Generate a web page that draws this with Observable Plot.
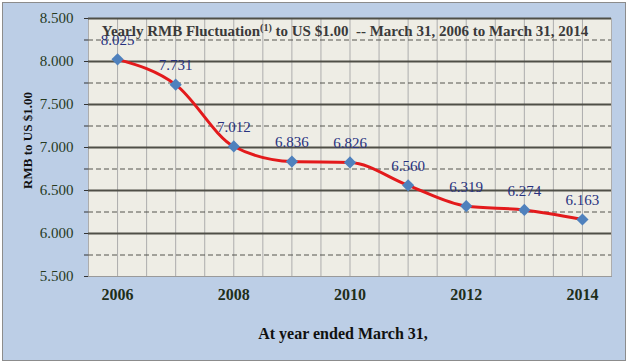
<!DOCTYPE html>
<html><head><meta charset="utf-8">
<script src="https://cdn.jsdelivr.net/npm/d3@7"></script>
<script src="https://cdn.jsdelivr.net/npm/@observablehq/plot@0.6"></script>
<style>
body{margin:0;background:#fff;}
#wrap{position:relative;width:629px;height:364px;overflow:hidden;}
#bg{position:absolute;left:2px;top:2px;width:622px;height:357px;background:#bccee6;border:1.5px solid #8c8c8c;}
#chart{position:absolute;left:0;top:0;}
</style></head><body>
<div id="wrap"><div id="bg"></div><div id="chart"></div></div>
<script>
const years = [2006, 2007, 2008, 2009, 2010, 2011, 2012, 2013, 2014];
const rates = [8.025, 7.731, 7.012, 6.836, 6.826, 6.560, 6.319, 6.274, 6.163];
const yTickLabels = [5.5, 6.0, 6.5, 7.0, 7.5, 8.0, 8.5];
const yMinorTicks = [5.5, 5.75, 6.0, 6.25, 6.5, 6.75, 7.0, 7.25, 7.5, 7.75, 8.0, 8.25, 8.5];
const xTickLabels = [2006, 2008, 2010, 2012, 2014];
const solidGrid = [6.0, 6.5, 7.0, 7.5, 8.0, 8.5];
const dashedGrid = [5.75, 6.25, 6.75, 7.25, 7.75, 8.25];
const vGrid = [2005.5, 2006, 2006.5, 2007, 2007.5, 2008, 2008.5, 2009, 2009.5, 2010, 2010.5, 2011, 2011.5, 2012, 2012.5, 2013, 2013.5, 2014, 2014.5];
const titleText = "Yearly RMB Fluctuation";
const titleSup = "(1)";
const titleRest = " to US $1.00  -- March 31, 2006 to March 31, 2014";
const yTitle = "RMB to US $1.00";
const xTitle = "At year ended March 31,";

const data = years.map((y, i) => ({year: y, rate: rates[i]}));
const fmt = d3.format(".3f");
const serif = "'Liberation Serif', 'Times New Roman', serif";

const chart = Plot.plot({
  width: 629, height: 364,
  marginLeft: 88, marginRight: 18, marginTop: 18, marginBottom: 88,
  style: {background: "transparent", fontFamily: serif},
  x: {domain: [2005.5, 2014.5], axis: null, label: null},
  y: {domain: [5.5, 8.5], axis: null, label: null},
  marks: [
    Plot.frame({fill: "#eeede5", stroke: "#9a9a9a", strokeWidth: 1}),
    Plot.ruleX(vGrid, {stroke: "#adadad", strokeWidth: 1}),
    Plot.ruleY(dashedGrid, {stroke: "#55554f", strokeWidth: 1, strokeDasharray: "5,3"}),
    Plot.ruleY(solidGrid, {stroke: "#4f4f47", strokeWidth: 2}),
    Plot.axisY(yMinorTicks, {tickSize: 4, tickFormat: () => "", stroke: "#333", label: null}),
    Plot.axisY(yTickLabels, {tickSize: 0, tickPadding: 15, tickFormat: fmt, fontSize: 15, fill: "#263a1e", label: null}),
    Plot.axisX(xTickLabels, {tickSize: 0, tickPadding: 12, tickFormat: d => String(d), fontSize: 16, fontWeight: "bold", fill: "#1f2e1a", label: null}),
    Plot.line(data, {x: "year", y: "rate", stroke: "#e31a1c", strokeWidth: 3, curve: "monotone-x"}),
    Plot.dot(data, {x: "year", y: "rate", symbol: "diamond2", r: 5.5, fill: "#4f81bd", stroke: null}),
    Plot.text(data, {x: "year", y: "rate", text: d => fmt(d.rate), dy: -19, fill: "#28327f", fontSize: 15}),
    Plot.text([titleText], {frameAnchor: "top", dx: -5, dy: 7, fontSize: 15, fontWeight: "bold", fill: "#3a3a3a"}),
    Plot.text([yTitle], {frameAnchor: "left", textAnchor: "middle", dx: -61, dy: -7, rotate: -90, fontSize: 13, fontWeight: "bold", fill: "#111"}),
    Plot.text([xTitle], {frameAnchor: "bottom", dx: -7, dy: 62, fontSize: 16, fontWeight: "bold", fill: "#111"})
  ]
});
document.getElementById("chart").appendChild(chart);

// add superscript and the rest of the title as tspans
d3.select(chart).selectAll("text").each(function() {
  if (this.textContent === titleText) {
    const t = d3.select(this);
    t.append("tspan").attr("font-size", 10).attr("dy", "-5px").text(titleSup);
    t.append("tspan").attr("dy", "5px").text(titleRest);
  }
});
</script>
</body></html>
